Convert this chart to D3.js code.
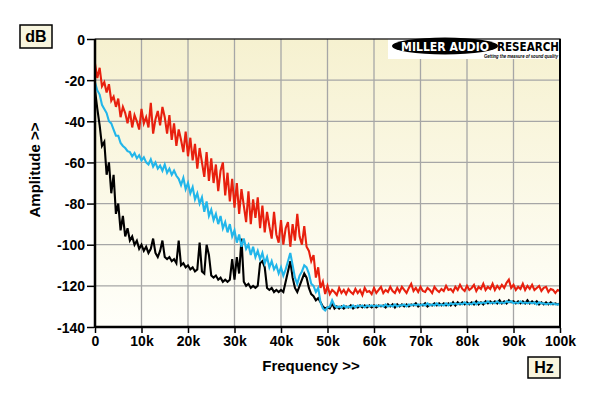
<!DOCTYPE html>
<html>
<head>
<meta charset="utf-8">
<script src="https://cdn.jsdelivr.net/npm/d3@7"></script>
<style>
  body { margin: 0; background: #fff; }
  text { font-family: Arial, "Liberation Sans", sans-serif; font-weight: bold; }
</style>
</head>
<body>
<svg id="chart"></svg>
<script>
// spectra sampled every 0.5 kHz, 0..100 kHz (dB)
let stepKHz = 0.5;

let redDb = [
  -12,-19,-14,-23,-21,-26,-22,-30,-28,-33,
  -29,-38,-33,-36,-41,-35,-43,-37,-40,-44,
  -34,-41,-38,-43,-31,-46,-39,-35,-42,-33,
  -38,-46,-37,-49,-41,-52,-44,-49,-55,-45,
  -57,-48,-59,-51,-63,-53,-60,-67,-55,-69,
  -58,-70,-61,-74,-64,-60,-76,-65,-79,-68,
  -82,-70,-85,-73,-81,-89,-74,-90,-78,-87,
  -77,-92,-81,-94,-84,-91,-97,-84,-95,-99,
  -88,-100,-92,-89,-101,-90,-98,-85,-96,-100,
  -91,-101,-103,-108,-105,-116,-111,-121,-118,-124,
  -120,-124,-122,-123,-124.5,-121,-123.5,-122,-124,-121.5,
  -123,-124,-121.5,-123.5,-122,-124.5,-121,-123,-122.5,-124,
  -121,-123.5,-122,-120.5,-123.5,-122,-123,-120.5,-122.5,-123.5,
  -121,-123,-120.5,-122,-123.5,-121,-119,-122.5,-121,-123,
  -120.5,-122.5,-123,-121,-122,-123.5,-120.5,-122,-123,-121.5,
  -122.5,-120,-122,-121.5,-123,-120.5,-122,-119.5,-121.5,-122.5,
  -120,-122,-121,-119.5,-122.5,-120.5,-121.5,-119,-122,-120.5,
  -121.5,-119,-122,-120,-121.5,-119.5,-121,-118.5,-117,-121,
  -119.5,-122,-120.5,-121.5,-119,-122,-120,-121.5,-119.5,-122,
  -121,-120,-122.5,-121,-120.5,-123,-121.5,-122,-123.5,-122,
  -122.5
];

let blueDb = [
  -21,-25,-27,-32,-34,-36,-40,-41,-44,-47,
  -47,-50.5,-52,-53,-54.5,-55,-57,-55.5,-58,-56.5,
  -59,-57.5,-60,-61,-58.5,-62,-60,-63,-61.5,-64,
  -61,-65,-63,-66,-64,-66.5,-68,-71,-67.5,-73,
  -70,-75,-72,-78,-75,-80,-77,-84,-79,-86,
  -83,-88,-85,-90,-86,-92,-89,-94,-90,-96,
  -93,-99,-95,-101,-97,-102,-100,-105,-101,-106,
  -103,-107,-104,-109,-106,-111,-108,-112,-110,-114,
  -111,-115,-112,-108,-104,-110,-116,-119,-115,-113,
  -110,-111,-114,-119,-120,-123,-121,-128,-131,-132,
  -130.5,-130,-127,-129.5,-130.5,-130,-130.5,-129.5,-130.5,-130,
  -130.5,-129.5,-130.5,-129.5,-130,-129.5,-130.5,-129.5,-130,-129.5,
  -130,-129.5,-130,-129.5,-130,-129,-130,-129.5,-130,-129,
  -130,-129.5,-129.5,-129,-130,-129,-129.5,-129,-129.5,-129,
  -129.5,-129,-129.5,-128.5,-129.5,-129,-129.5,-128.5,-129.5,-129,
  -129.5,-128.5,-129.5,-128.5,-129,-128.5,-129,-128.5,-129,-128,
  -129,-128.5,-129,-128,-129,-128,-128.5,-128,-128.5,-127.5,
  -128.5,-128,-128.5,-127.5,-128.5,-128,-128.5,-127.5,-128,-127.5,
  -128.5,-128,-128.5,-127.5,-128.5,-128,-128.5,-128,-128.5,-128,
  -129,-128,-128.5,-128.5,-129,-128.5,-129,-128.5,-129,-129,
  -129
];

let blackDb = [
  -25,-34,-42,-52,-50,-66,-60,-75,-66,-85,
  -80,-93,-86,-96,-92,-98,-96,-100,-98,-102,
  -100,-103,-101,-104,-102,-97,-104,-106,-103,-98,
  -106,-107,-106,-108,-107,-109,-98,-110,-109,-111,
  -110,-112,-111,-113,-112,-99,-113,-114,-100,-105,
  -115,-116,-115,-117,-116,-118,-117,-118,-117,-107,
  -117,-106,-114,-97,-118,-120,-119,-121,-120,-121,
  -120,-109,-108,-111,-121,-122,-121,-123,-122,-123,
  -122,-123,-118,-113,-108,-116,-121,-123,-120,-117,
  -114,-116,-121,-124,-125,-127,-126,-128,-130,-131,
  -130.5,-131,-128.5,-131,-130,-131,-130,-131,-130,-130.5,
  -129.5,-131,-130,-130.5,-129.5,-130.5,-129.5,-130.5,-129.5,-130.5,
  -129.5,-130.5,-129.5,-130,-129.5,-130.5,-129,-130,-129,-130.5,
  -129,-130,-129,-130,-129,-130,-129,-129.5,-128.5,-130,
  -129,-129.5,-128.5,-130,-129,-129.5,-128.5,-129.5,-128.5,-129.5,
  -128.5,-129.5,-128.5,-129.5,-128,-129.5,-128,-129,-128,-129,
  -128,-129,-128,-129,-127.5,-129,-128,-129,-127.5,-128.5,
  -127.5,-128.5,-127.5,-128.5,-127,-128.5,-127.5,-128.5,-127,-128,
  -127.5,-128.5,-127.5,-128.5,-127.5,-128.5,-127,-128.5,-127.5,-128.5,
  -127.5,-129,-128,-129,-128,-129,-128,-129,-128.5,-129,
  -128.5
];

let xTicks = [0, 10, 20, 30, 40, 50, 60, 70, 80, 90, 100];
let xTickLabels = ["0", "10k", "20k", "30k", "40k", "50k", "60k", "70k", "80k", "90k", "100k"];
let yTicks = [0, -20, -40, -60, -80, -100, -120, -140];

let series = [
  { name: "black", values: blackDb, color: "#000000", width: 2.1 },
  { name: "blue", values: blueDb, color: "#22b6ea", width: 2.1 },
  { name: "red", values: redDb, color: "#e8200e", width: 2.1 }
];

let W = 600, H = 396;
let plot = { left: 95, right: 560, top: 39, bottom: 327 };

let svg = d3.select('#chart').attr('width', W).attr('height', H);

let x = d3.scaleLinear().domain([0, 100]).range([plot.left, plot.right]);
let y = d3.scaleLinear().domain([-140, 0]).range([plot.bottom, plot.top]);

// background gradient
let grad = svg.append('defs').append('linearGradient')
    .attr('id', 'bg').attr('x1', 0).attr('y1', 0).attr('x2', 0).attr('y2', 1);
grad.append('stop').attr('offset', '0%').attr('stop-color', '#f6f1d0');
grad.append('stop').attr('offset', '100%').attr('stop-color', '#fffffa');

svg.append('rect')
    .attr('x', plot.left).attr('y', plot.top)
    .attr('width', plot.right - plot.left).attr('height', plot.bottom - plot.top)
    .attr('fill', 'url(#bg)');

// grid
svg.append('g').selectAll('line')
    .data(xTicks.slice(1, -1)).enter().append('line')
    .attr('x1', d => x(d)).attr('x2', d => x(d))
    .attr('y1', plot.top).attr('y2', plot.bottom)
    .attr('stroke', '#a6a6a6').attr('stroke-width', 1.3);
svg.append('g').selectAll('line')
    .data(yTicks.slice(1, -1)).enter().append('line')
    .attr('x1', plot.left).attr('x2', plot.right)
    .attr('y1', d => y(d)).attr('y2', d => y(d))
    .attr('stroke', '#a6a6a6').attr('stroke-width', 1.3);

// logo
let logo = svg.append('g');
logo.append('rect').attr('x', 388).attr('y', 38).attr('width', 171).attr('height', 21).attr('fill', '#ffffff');
logo.append('ellipse').attr('cx', 445).attr('cy', 46).attr('rx', 53).attr('ry', 8.5).attr('fill', '#000');
logo.append('text').attr('x', 445).attr('y', 50.5).attr('text-anchor', 'middle')
    .attr('fill', '#fff').style('font-size', '12px').style('font-family', '"DejaVu Sans", Arial, sans-serif')
    .attr('textLength', 88).attr('lengthAdjust', 'spacingAndGlyphs')
    .text('MILLER AUDIO');
logo.append('text').attr('x', 497).attr('y', 50.5)
    .attr('fill', '#000').style('font-size', '12px').style('font-family', '"DejaVu Sans", Arial, sans-serif')
    .attr('textLength', 62).attr('lengthAdjust', 'spacingAndGlyphs')
    .text('RESEARCH');
logo.append('text').attr('x', 484).attr('y', 57.5)
    .attr('fill', '#000').style('font-size', '5px').style('font-style', 'italic')
    .attr('textLength', 74).attr('lengthAdjust', 'spacingAndGlyphs')
    .text('Getting the measure of sound quality');

// traces
let line = d3.line()
    .x((d, i) => x(i * stepKHz))
    .y(d => y(d));

svg.append('g').selectAll('path')
    .data(series).enter().append('path')
    .attr('d', d => line(d.values))
    .attr('fill', 'none')
    .attr('stroke', d => d.color)
    .attr('stroke-width', d => d.width)
    .attr('stroke-linejoin', 'miter');

// frame
svg.append('rect')
    .attr('x', plot.left).attr('y', plot.top)
    .attr('width', plot.right - plot.left).attr('height', plot.bottom - plot.top)
    .attr('fill', 'none').attr('stroke', '#000').attr('stroke-width', 1.2);
svg.append('line').attr('x1', plot.left).attr('x2', plot.left)
    .attr('y1', plot.top).attr('y2', plot.bottom + 1)
    .attr('stroke', '#000').attr('stroke-width', 2.5);
svg.append('line').attr('x1', plot.left).attr('x2', plot.right + 1)
    .attr('y1', plot.bottom).attr('y2', plot.bottom)
    .attr('stroke', '#000').attr('stroke-width', 2.5);
svg.append('line').attr('x1', plot.right).attr('x2', plot.right)
    .attr('y1', plot.top).attr('y2', plot.bottom)
    .attr('stroke', '#000').attr('stroke-width', 2);

// axes
let yAxis = svg.append('g')
    .attr('transform', `translate(${plot.left - 1},0)`)
    .call(d3.axisLeft(y).tickValues(yTicks).tickSize(7).tickPadding(2).tickFormat(d => d));
let xAxis = svg.append('g')
    .attr('transform', `translate(0,${plot.bottom + 1})`)
    .call(d3.axisBottom(x).tickValues(xTicks).tickSize(5).tickPadding(3).tickFormat((d, i) => xTickLabels[i]));

[yAxis, xAxis].forEach(a => {
    a.select('.domain').remove();
    a.selectAll('.tick line').attr('stroke', '#000').attr('stroke-width', 1.5);
    a.selectAll('.tick text').attr('fill', '#000')
        .style('font-size', '14px').style('font-weight', 'bold')
        .style('font-family', 'Arial, "Liberation Sans", sans-serif');
});
yAxis.selectAll('.tick text').attr('dy', '0.36em');

// axis titles
svg.append('text').attr('x', 311).attr('y', 371).attr('text-anchor', 'middle')
    .style('font-size', '15px').text('Frequency >>');
svg.append('text').attr('transform', 'translate(40,170) rotate(-90)').attr('text-anchor', 'middle')
    .style('font-size', '15px').text('Amplitude >>');

// unit boxes
function unitBox(bx, by, bw, bh, label) {
    svg.append('rect').attr('x', bx).attr('y', by).attr('width', bw).attr('height', bh)
        .attr('fill', '#f8f5de').attr('stroke', '#000').attr('stroke-width', 1.5);
    svg.append('text').attr('x', bx + bw / 2).attr('y', by + bh / 2 + 5.5)
        .attr('text-anchor', 'middle').style('font-size', '16px').text(label);
}
unitBox(20, 25, 32, 23, 'dB');
unitBox(528, 357, 32, 21, 'Hz');
</script>
</body>
</html>
